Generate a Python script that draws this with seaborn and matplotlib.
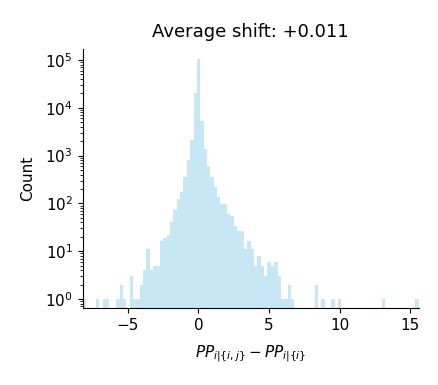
import numpy as np
import pandas as pd
import matplotlib
matplotlib.use("Agg")
import matplotlib.pyplot as plt
import seaborn as sns

# Histogram data (100 equal-width bins)
x_min = -8.2
x_max = 15.6
bin_counts = [
    1, 0, 0, 0, 1, 0, 1, 1, 0, 0,
    1, 2, 1, 0, 3, 1, 1, 2, 4, 11,
    4, 5, 5, 16, 19, 22, 40, 74, 126, 177,
    348, 794, 2090, 20300, 105000, 5250, 1350, 592, 365, 225,
    139, 99, 99, 61, 55, 34, 26, 27, 11, 16,
    11, 5, 8, 5, 3, 6, 5, 6, 3, 1,
    1, 2, 1, 0, 0, 0, 0, 0, 0, 2,
    0, 1, 0, 0, 1, 0, 1, 0, 0, 0,
    0, 0, 0, 0, 0, 0, 0, 0, 0, 1,
    0, 0, 0, 0, 0, 0, 0, 0, 0, 1,
]
title_text = "Average shift: +0.011"
x_label = r"$PP_{i|\{i,j\}} - PP_{i|\{i\}}$"
y_label = "Count"

edges = np.linspace(x_min, x_max, len(bin_counts) + 1)
centers = (edges[:-1] + edges[1:]) / 2
df = pd.DataFrame({"shift": centers, "count": bin_counts})

fig = plt.figure(figsize=(4.39, 3.85), dpi=100)
ax = fig.add_axes([0.188, 0.2, 0.766, 0.673])

sns.histplot(data=df, x="shift", weights="count", bins=list(edges), ax=ax,
             color="#c6e7f3", alpha=1.0, linewidth=0)
ax.set_yscale("log")
ax.set_xlim(x_min, x_max)
ax.set_ylim(0.65, 1.7e5)
sns.despine(ax=ax)

ax.set_title(title_text, fontsize=13, pad=8.6)
ax.set_xlabel(x_label, fontsize=11, labelpad=7.5)
ax.set_ylabel(y_label, fontsize=11, labelpad=7.5)
ax.tick_params(axis="both", labelsize=11)

fig.savefig("out.png", dpi=100)
